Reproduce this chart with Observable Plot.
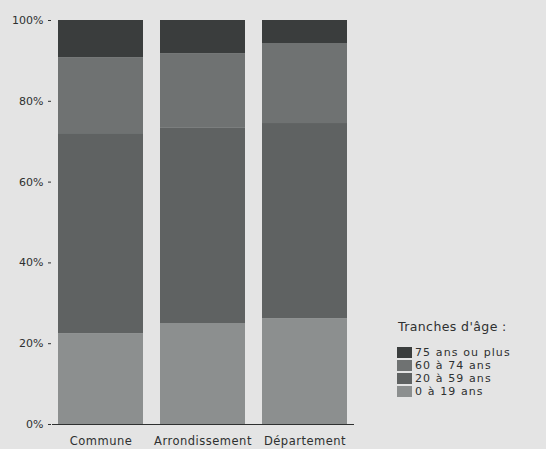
<!DOCTYPE html>
<html>
<head>
<meta charset="utf-8">
<script src="https://cdn.jsdelivr.net/npm/d3@7"></script>
<script src="https://cdn.jsdelivr.net/npm/@observablehq/plot@0.6"></script>
<style>
  html, body { margin: 0; padding: 0; background: #e4e4e4; }
  #wrap { position: relative; width: 546px; height: 449px; overflow: hidden; font-family: "DejaVu Sans", sans-serif; color: #2e3030; }
  #chart { position: absolute; left: 0; top: 0; }
  #legend { position: absolute; left: 397px; top: 319px; font-size: 12.5px; letter-spacing: 0.4px; }
  #legend .title { margin-bottom: 11px; margin-left: 1px; line-height: 16px; }
  #legend .row { display: flex; align-items: center; height: 13px; line-height: 13px; font-size: 11px; letter-spacing: 1.1px; }
  #legend .sw { width: 15px; height: 11px; margin-right: 3px; flex: none; }
  #legend .row span { line-height: 13px; display: block; }
  #chart svg g[aria-label="x-axis tick label"] text { letter-spacing: 0.5px; }
</style>
</head>
<body>
<div id="wrap">
  <div id="chart"></div>
  <div id="legend"></div>
</div>
<script>
const categories = ["Commune", "Arrondissement", "Département"];
const ageGroups = ["0 à 19 ans", "20 à 59 ans", "60 à 74 ans", "75 ans ou plus"];
const groupColors = ["#8c8f8f", "#5f6262", "#6f7272", "#3a3d3d"];
// percentages per category, in ageGroups order
const communeValues = [22.5, 49.5, 18.8, 9.2];
const arrondissementValues = [25.0, 48.3, 18.5, 8.2];
const departementValues = [26.2, 48.3, 19.8, 5.7];
const yTicks = [0, 20, 40, 60, 80, 100];
const legendTitle = "Tranches d'âge :";

const series = [communeValues, arrondissementValues, departementValues];
const data = [];
categories.forEach((c, i) => {
  ageGroups.forEach((g, j) => data.push({category: c, group: g, value: series[i][j]}));
});

const chart = Plot.plot({
  width: 360,
  height: 449,
  marginLeft: 52,
  marginRight: 6,
  marginTop: 20,
  marginBottom: 25,
  style: {background: "transparent", fontFamily: "DejaVu Sans, sans-serif", fontSize: "11px", color: "#2e3030"},
  x: {domain: categories, paddingInner: 0.165, paddingOuter: 0.05, label: null},
  y: {domain: [0, 100], label: null},
  color: {domain: ageGroups, range: groupColors},
  marks: [
    Plot.barY(data, Plot.stackY({x: "category", y: "value", fill: "group", order: null})),
    Plot.ruleY([0], {stroke: "#2e3030", strokeWidth: 1}),
    Plot.axisY({ticks: yTicks, tickFormat: d => d + "%", tickSize: 3, dx: -1, tickPadding: 5, fontSize: 11}),
    Plot.axisX({tickSize: 0, tickPadding: 12, fontSize: 11.5})
  ]
});
document.getElementById("chart").appendChild(chart);

const legend = document.getElementById("legend");
const t = document.createElement("div");
t.className = "title";
t.textContent = legendTitle;
legend.appendChild(t);
for (let i = ageGroups.length - 1; i >= 0; i--) {
  const row = document.createElement("div");
  row.className = "row";
  const sw = document.createElement("div");
  sw.className = "sw";
  sw.style.background = groupColors[i];
  const lab = document.createElement("span");
  lab.textContent = ageGroups[i];
  row.appendChild(sw);
  row.appendChild(lab);
  legend.appendChild(row);
}
</script>
</body>
</html>
